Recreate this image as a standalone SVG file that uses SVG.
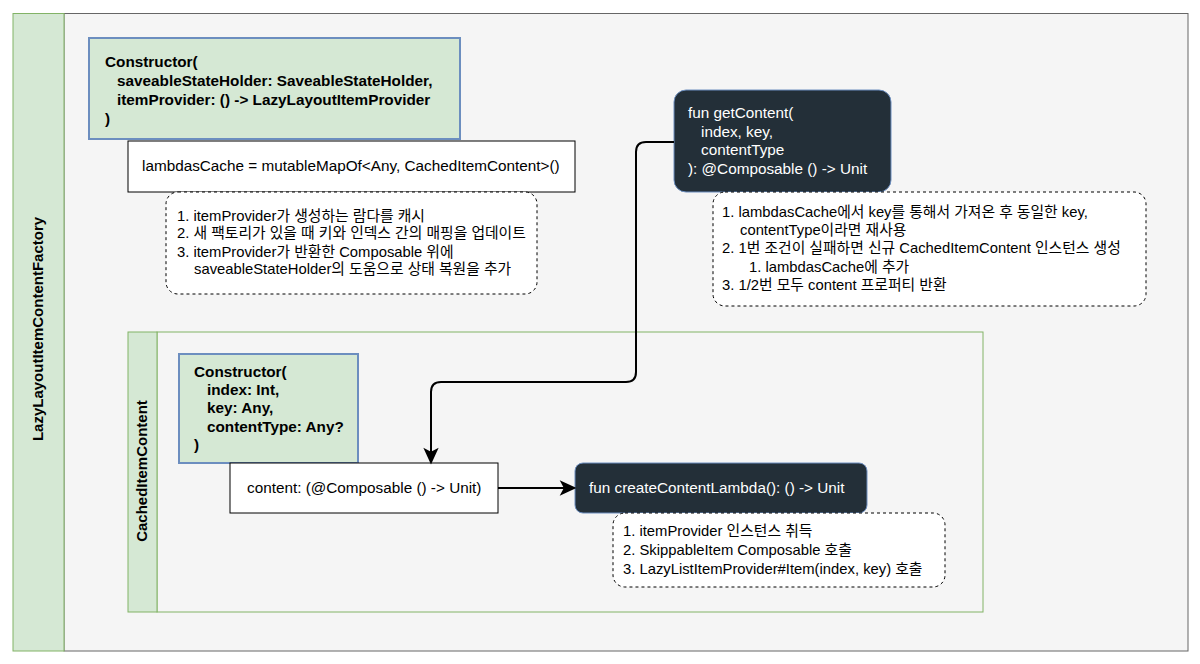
<svg xmlns="http://www.w3.org/2000/svg" width="1200" height="664" viewBox="0 0 1200 664">
<defs>
<style>
text{font-family:"Liberation Sans","Noto Sans CJK KR",sans-serif;font-size:15.3px;fill:#000}
.b{font-weight:bold}
.t{font-size:15px}
.w{fill:#fff}
.n{font-size:14.8px}
.hdr{fill:#d5e8d4;stroke:#82b366;stroke-width:1}
.ctor{fill:#d5e8d4;stroke:#6c8ebf;stroke-width:2}
.plain{fill:#fff;stroke:#000;stroke-width:1}
.dark{fill:#232f38;stroke:#6c8ebf;stroke-width:1}
.note{fill:#fff;stroke:#000;stroke-width:1;stroke-dasharray:3 3}
.edge{fill:none;stroke:#000;stroke-width:2}
.head{fill:#000;stroke:#000;stroke-width:2;stroke-linejoin:miter}
</style>
</defs>
<rect width="1200" height="664" fill="#fff"/>

<g id="factory">
<rect x="64" y="13.5" width="1124" height="637.5" fill="#f5f5f5" stroke="#666" stroke-width="1"/>
<rect class="hdr" x="13" y="13.5" width="51" height="637.5"/>
<text class="b t" transform="translate(43,329) rotate(-90)" text-anchor="middle">LazyLayoutItemContentFactory</text>
</g>

<g id="ctor1">
<rect class="ctor" x="89" y="38" width="371" height="101"/>
<text class="b" x="105" y="67">Constructor(</text>
<text class="b" x="117" y="86">saveableStateHolder: SaveableStateHolder,</text>
<text class="b" x="117" y="105">itemProvider: () -&gt; LazyLayoutItemProvider</text>
<text class="b" x="105" y="124">)</text>
</g>

<g id="lambdasCache">
<rect class="plain" x="128" y="141" width="447" height="51"/>
<text x="142" y="171">lambdasCache = mutableMapOf&lt;Any, CachedItemContent&gt;()</text>
</g>

<g id="note1">
<rect class="note" x="166" y="192" width="371" height="102" rx="12"/>
<text class="n" x="177" y="221">1. itemProvider가 생성하는 람다를 캐시</text>
<text class="n" x="177" y="238">2. 새 팩토리가 있을 때 키와 인덱스 간의 매핑을 업데이트</text>
<text class="n" x="177" y="257">3. itemProvider가 반환한 Composable 위에</text>
<text class="n" x="194" y="274">saveableStateHolder의 도움으로 상태 복원을 추가</text>
</g>

<g id="getContent">
<rect class="dark" x="674" y="90" width="217" height="102" rx="12"/>
<text class="w" x="688" y="118">fun getContent(</text>
<text class="w" x="701" y="137">index, key,</text>
<text class="w" x="701" y="155">contentType</text>
<text class="w" x="688" y="174">): @Composable () -&gt; Unit</text>
</g>

<g id="note2">
<rect class="note" x="713" y="192" width="433" height="114" rx="12"/>
<text class="n" x="722" y="217">1. lambdasCache에서 key를 통해서 가져온 후 동일한 key,</text>
<text class="n" x="740" y="235">contentType이라면 재사용</text>
<text class="n" x="722" y="253">2. 1번 조건이 실패하면 신규 CachedItemContent 인스턴스 생성</text>
<text class="n" x="749" y="272">1. lambdasCache에 추가</text>
<text class="n" x="722" y="290">3. 1/2번 모두 content 프로퍼티 반환</text>
</g>

<g id="cachedItemContent">
<rect x="157" y="332" width="826" height="280" fill="#f5f5f5" stroke="#82b366" stroke-width="1"/>
<rect class="hdr" x="128" y="332" width="29" height="280"/>
<text class="b t" transform="translate(147,471) rotate(-90)" text-anchor="middle">CachedItemContent</text>
</g>

<g id="ctor2">
<rect class="ctor" x="179" y="354" width="179" height="109"/>
<text class="b" x="194" y="377">Constructor(</text>
<text class="b" x="207" y="395">index: Int,</text>
<text class="b" x="207" y="413">key: Any,</text>
<text class="b" x="207" y="432">contentType: Any?</text>
<text class="b" x="194" y="450">)</text>
</g>

<g id="content">
<rect class="plain" x="230" y="463" width="268" height="50"/>
<text x="247" y="493">content: (@Composable () -&gt; Unit)</text>
</g>

<g id="createContentLambda">
<rect class="dark" x="575" y="463" width="292" height="50" rx="8"/>
<text class="w" x="589" y="493">fun createContentLambda(): () -&gt; Unit</text>
</g>

<g id="note3">
<rect class="note" x="613" y="513" width="332" height="74" rx="12"/>
<text class="n" x="623" y="536">1. itemProvider 인스턴스 취득</text>
<text class="n" x="623" y="555">2. SkippableItem Composable 호출</text>
<text class="n" x="623" y="574">3. LazyListItemProvider#Item(index, key) 호출</text>
</g>

<g id="connectors">
<path class="edge" d="M674 142 H646 Q636 142 636 152 V372 Q636 382 626 382 H441 Q431 382 431 392 V455"/>
<path class="head" d="M431 462 L425.5 450 L431 453 L436.5 450 Z"/>
<path class="edge" d="M498 488 H566"/>
<path class="head" d="M574 488 L562 482.5 L565 488 L562 493.5 Z"/>
</g>
</svg>
